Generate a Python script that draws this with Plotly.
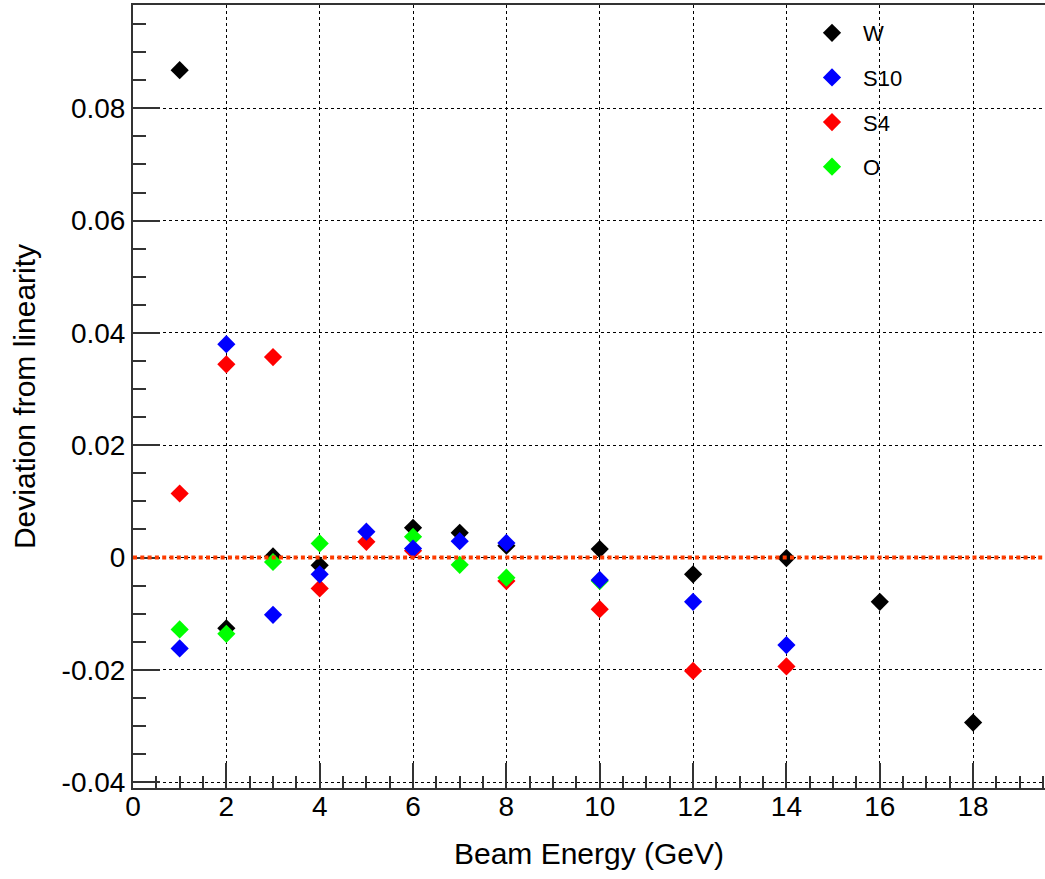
import plotly.graph_objects as go

# ---- data ----
energy_W = [1, 2, 3, 4, 6, 7, 8, 10, 12, 14, 16, 18]
dev_W = [0.0868, -0.0126, 0.0002, -0.0014, 0.0053, 0.0044, 0.0021, 0.0015, -0.0030, -0.0001, -0.0079, -0.0294]

energy_S10 = [1, 2, 3, 4, 5, 6, 7, 8, 10, 12, 14]
dev_S10 = [-0.0162, 0.0380, -0.0102, -0.0030, 0.0046, 0.0016, 0.0029, 0.0026, -0.0040, -0.0079, -0.0156]

energy_S4 = [1, 2, 3, 4, 5, 6, 8, 10, 12, 14]
dev_S4 = [0.0114, 0.0344, 0.0357, -0.0055, 0.0028, 0.0012, -0.0042, -0.0092, -0.0202, -0.0194]

energy_O = [1, 2, 3, 4, 6, 7, 8, 10]
dev_O = [-0.0128, -0.0136, -0.0008, 0.0025, 0.0037, -0.0013, -0.0036, -0.0042]

x_tickvals = [0, 2, 4, 6, 8, 10, 12, 14, 16, 18]
x_ticktext = ["0", "2", "4", "6", "8", "10", "12", "14", "16", "18"]
y_tickvals = [-0.04, -0.02, 0, 0.02, 0.04, 0.06, 0.08]
y_ticktext = ["-0.04", "-0.02", "0", "0.02", "0.04", "0.06", "0.08"]

FONT = "Liberation Sans, Arial, Helvetica, sans-serif"
AXC = "#333333"

fig = go.Figure()

# draw order (bottom->top): S4, W, O, S10 ; legend order W, S10, S4, O
series = [
    ("S4", energy_S4, dev_S4, "#ff0000", 3),
    ("W", energy_W, dev_W, "#000000", 1),
    ("O", energy_O, dev_O, "#00ff00", 4),
    ("S10", energy_S10, dev_S10, "#0000ff", 2),
]
for name, xs, ys, col, rank in series:
    fig.add_trace(go.Scatter(
        x=xs, y=ys, mode="markers", name=name,
        legendrank=rank, legendgroup=name,
        marker=dict(symbol="diamond", size=14, color=col, line=dict(width=0)),
    ))

# legend background box (hides gridlines behind the legend, like the reference)
fig.add_shape(type="rect", xref="paper", yref="paper",
              x0=(802 - 133) / 912, x1=1.0, y0=1 - 185 / 783, y1=1 - 7 / 783,
              fillcolor="white", line=dict(width=0), layer="between")

# zero reference line (on top of markers)
fig.add_shape(type="line", xref="paper", x0=0, x1=1, yref="y", y0=0, y1=0,
              line=dict(color="#ff3c00", width=4, dash="4px,3.3px"), layer="above")

fig.update_layout(
    width=1045, height=879,
    margin=dict(l=133, r=0, t=5, b=91),
    paper_bgcolor="white", plot_bgcolor="white",
    font=dict(family=FONT, color="black", size=22),
    showlegend=True,
    legend=dict(
        x=(801 - 133) / 912, xanchor="left",
        y=0.991, yanchor="top",
        bgcolor="rgba(255,255,255,0)", borderwidth=0,
        font=dict(family=FONT, size=22, color="black"),
        itemwidth=52, tracegroupgap=13,
        traceorder="grouped",
    ),
    xaxis=dict(
        range=[0, 19.54],
        tickvals=x_tickvals, ticktext=x_ticktext,
        ticks="inside", ticklen=25, tickwidth=1.5, tickcolor=AXC,
        minor=dict(ticks="inside", ticklen=12, tickwidth=1.5, tickcolor=AXC, dtick=0.5, tick0=0, showgrid=False),
        showline=True, linecolor=AXC, linewidth=2, mirror=True,
        showgrid=True, gridcolor="black", gridwidth=1, griddash="dot",
        zeroline=False,
        ticklabelstandoff=-8,
        tickfont=dict(family=FONT, size=28, color="black"),
        title=dict(text="Beam Energy (GeV)", font=dict(family=FONT, size=30, color="black"), standoff=22),
    ),
    yaxis=dict(
        range=[-0.04105, 0.0984],
        tickvals=y_tickvals, ticktext=y_ticktext,
        ticks="inside", ticklen=27, tickwidth=1.5, tickcolor=AXC,
        minor=dict(ticks="inside", ticklen=13, tickwidth=1.5, tickcolor=AXC, dtick=0.005, tick0=0, showgrid=False),
        showline=True, linecolor=AXC, linewidth=2, mirror=False,
        showgrid=True, gridcolor="black", gridwidth=1, griddash="dot",
        zeroline=False,
        tickfont=dict(family=FONT, size=28, color="black"),
        title=dict(text="Deviation from linearity", font=dict(family=FONT, size=30, color="black"), standoff=17),
    ),
)

fig.write_html("out.html")
